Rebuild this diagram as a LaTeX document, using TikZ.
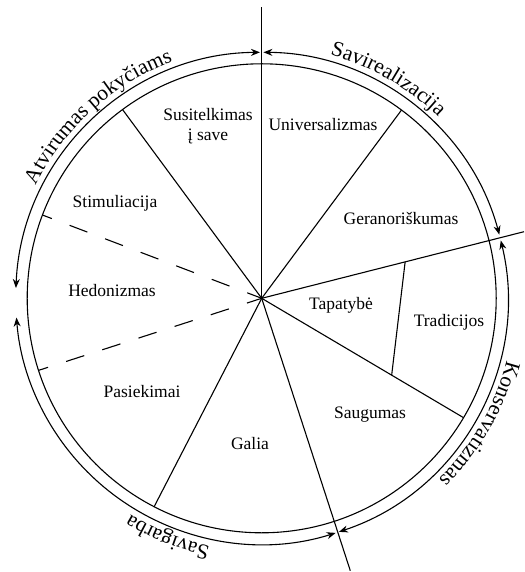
\documentclass[tikz,border=0pt]{standalone}
\usepackage{fontspec}
\setmainfont{Liberation Serif}
\usetikzlibrary{arrows.meta,decorations.text}

\newcommand\valuesize{\fontsize{17.5}{20}\selectfont}
\newcommand\arcsize{\fontsize{21.5}{25}\selectfont}

\tikzset{
  divider/.style={line width=1.1pt},
  spanarc/.style={line width=1.1pt,
    {Stealth[length=9pt,width=7pt]}-{Stealth[length=9pt,width=7pt]}},
  arclabel/.style={decorate,
    decoration={text along path,text align=center,text={|\arcsize|#1}}},
}

\begin{document}
\begin{tikzpicture}[x=1pt,y=1pt]
  \useasboundingbox (-261.7,-273.7) rectangle (262.3,298.3);
  \def\rin{234.5}
  \def\rout{246}
  \def\rtxt{253}
  \coordinate (c) at (0,0);
  % axes that run past the ring
  \coordinate (top)    at (0,291.3);
  \coordinate (right)  at (262.3,66.6);
  \coordinate (bottom) at (88.6,-272.4);
  % inner dividers
  \coordinate (self-stim)  at (126.4:\rin);
  \coordinate (univ-ger)   at (53.4:\rin);
  \coordinate (pas-gal)    at (242.7:\rin);
  \coordinate (saug-trad)  at (-30.6:\rin);
  \coordinate (stim-hed)   at (159.2:\rin);
  \coordinate (hed-pas)    at (197.9:\rin);
  \coordinate (tap-up)     at (14.25:148);
  \coordinate (tap-down)   at (-30.6:151);

  \draw[divider] (c) circle[radius=\rin];
  \begin{scope}[divider]
    \draw (c) -- (top);
    \draw (c) -- (right);
    \draw (c) -- (bottom);
    \draw (c) -- (self-stim);
    \draw (c) -- (univ-ger);
    \draw (c) -- (pas-gal);
    \draw (c) -- (saug-trad);
    \draw (tap-up) -- (tap-down);
    \draw[dash pattern=on 19pt off 19pt,dash phase=9pt] (stim-hed) -- (c);
    \draw[dash pattern=on 19pt off 19pt,dash phase=9pt] (hed-pas) -- (c);
  \end{scope}

  % outer arrows
  \draw[spanarc] (177.6:\rout) arc[start angle=177.6,end angle=90.4,radius=\rout];
  \draw[spanarc] (89.6:\rout)  arc[start angle=89.6,end angle=15.0,radius=\rout];
  \draw[spanarc] (13.6:\rout)  arc[start angle=13.6,end angle=-71.7,radius=\rout];
  \draw[spanarc] (-72.5:\rout) arc[start angle=-72.5,end angle=-175.5,radius=\rout];

  \path[arclabel=Atvirumas pokyčiams] (167:\rtxt) arc[start angle=167,end angle=97,radius=\rtxt];
  \path[arclabel=Savirealizacija] (95:\rtxt) arc[start angle=95,end angle=25,radius=\rtxt];
  \path[arclabel=Konservatizmas] (5:\rtxt) arc[start angle=5,end angle=-65,radius=\rtxt];
  \path[arclabel=Savigarba] (283.5:\rtxt) arc[start angle=283.5,end angle=213.5,radius=\rtxt];

  \begin{scope}[every node/.style={font=\valuesize,align=center,inner sep=0pt}]
    \node (susitelkimas)   at (-53.7,172.3) {Susitelkimas\\į save};
    \node (universalizmas) at (61.3,173.3)  {Universalizmas};
    \node (stimuliacija)   at (-146.7,95.3) {Stimuliacija};
    \node (geranoriskumas) at (139.3,80.3)  {Geranoriškumas};
    \node (hedonizmas)     at (-149.7,7.3)  {Hedonizmas};
    \node (tapatybe)       at (79.3,-6.7)   {Tapatybė};
    \node (tradicijos)     at (187.3,-23.7) {Tradicijos};
    \node (pasiekimai)     at (-119.7,-93.7) {Pasiekimai};
    \node (saugumas)       at (108.3,-116.7) {Saugumas};
    \node (galia)          at (-11.7,-145.7) {Galia};
  \end{scope}
\end{tikzpicture}
\end{document}
